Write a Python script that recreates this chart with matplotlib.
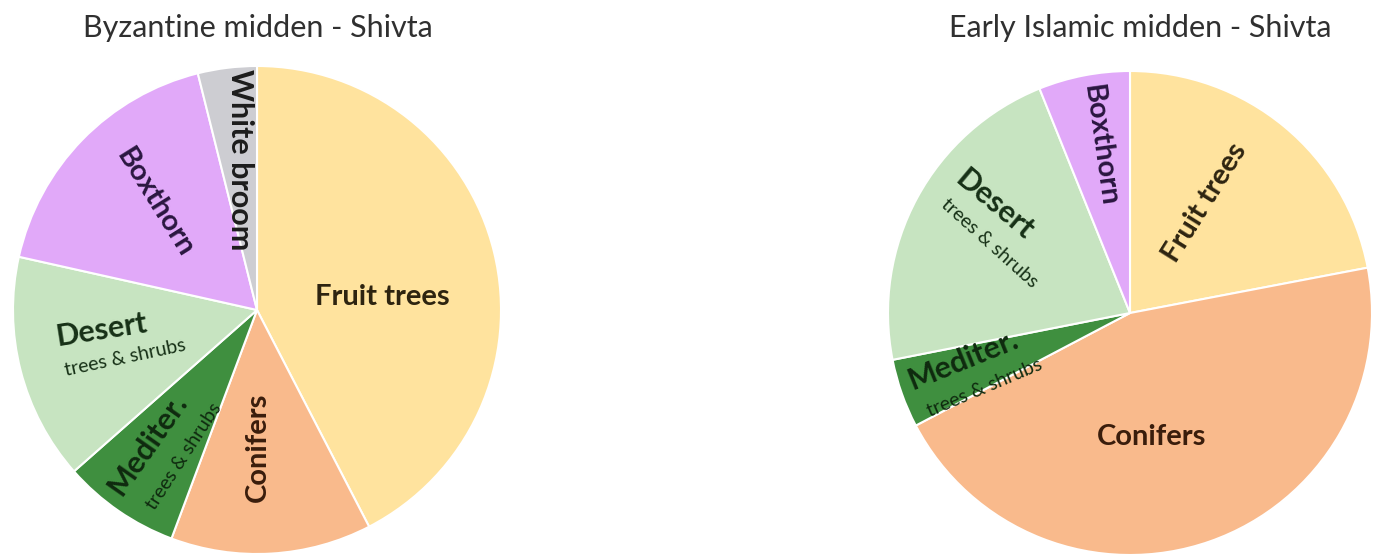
import matplotlib.pyplot as plt

plt.rcParams['font.family'] = ['Lato', 'DejaVu Sans']

# Byzantine midden
byz_labels = ["Fruit trees", "Conifers", "Mediter.", "Desert", "Boxthorn", "White broom"]
byz_values = [42.4, 13.3, 7.8, 15.0, 17.6, 3.9]
# Early Islamic midden
isl_labels = ["Fruit trees", "Conifers", "Mediter.", "Desert", "Boxthorn"]
isl_values = [22.0, 45.3, 4.6, 22.0, 6.1]

colors = {
    "Fruit trees": "#FFE39E",
    "Conifers": "#F9BA8C",
    "Mediter.": "#3F8F3F",
    "Desert": "#C7E4C1",
    "Boxthorn": "#E1A9F9",
    "White broom": "#CDCDD2",
}
txtcol = {
    "Fruit trees": "#2e2410",
    "Conifers": "#3a1d0c",
    "Mediter.": "#0f2a0f",
    "Desert": "#163016",
    "Boxthorn": "#2a1640",
    "White broom": "#1c1c1c",
}

fig = plt.figure(figsize=(13.78, 5.55), dpi=100)
W, H = 1378, 555


def make_ax(cx, cy, r):
    return fig.add_axes([(cx - r) / W, (H - cy - r) / H, 2 * r / W, 2 * r / H])


def draw(ax, labels, values, lab_pos):
    ax.pie(values, colors=[colors[l] for l in labels], startangle=90,
           counterclock=False, radius=1.0,
           wedgeprops=dict(edgecolor='white', linewidth=1.5))
    ax.set_xlim(-1, 1)
    ax.set_ylim(-1, 1)
    ax.set_aspect('equal')
    ax.axis('off')
    for name, (x, y, rot, fs, sub) in lab_pos.items():
        ax.text(x, y, name, ha='center', va='center', rotation=rot,
                rotation_mode='anchor', fontsize=fs, fontweight='bold',
                color=txtcol[name])
        if sub is not None:
            sx, sy, srot = sub
            ax.text(sx, sy, "trees & shrubs", ha='center', va='center',
                    rotation=srot, rotation_mode='anchor', fontsize=14,
                    color=txtcol[name])


ax1 = make_ax(257, 310, 244)
draw(ax1, byz_labels, byz_values, {
    "Fruit trees": (0.512, 0.053, 0, 21, None),
    "Conifers": (0.004, -0.561, 90, 21, None),
    "Mediter.": (-0.45, -0.55, 55, 22, (-0.30, -0.60, 57)),
    "Desert": (-0.635, -0.082, 9, 22, (-0.541, -0.197, 12)),
    "Boxthorn": (-0.418, 0.439, -58, 21, None),
    "White broom": (-0.070, 0.615, -90, 22, None),
})
fig.text(258 / W, 1 - 28 / H, "Byzantine midden - Shivta", ha='center',
         va='center', fontsize=22, color='#303030')

ax2 = make_ax(1130, 313, 242)
draw(ax2, isl_labels, isl_values, {
    "Fruit trees": (0.310, 0.455, 58, 21, None),
    "Conifers": (0.091, -0.512, 0, 21, None),
    "Mediter.": (-0.69, -0.194, 22, 22, (-0.60, -0.310, 23)),
    "Desert": (-0.558, 0.446, -40, 22, (-0.579, 0.289, -42)),
    "Boxthorn": (-0.124, 0.694, -82, 21, None),
})
fig.text(1140 / W, 1 - 28 / H, "Early Islamic midden - Shivta", ha='center',
         va='center', fontsize=22, color='#303030')

fig.savefig("out.png", dpi=100)
